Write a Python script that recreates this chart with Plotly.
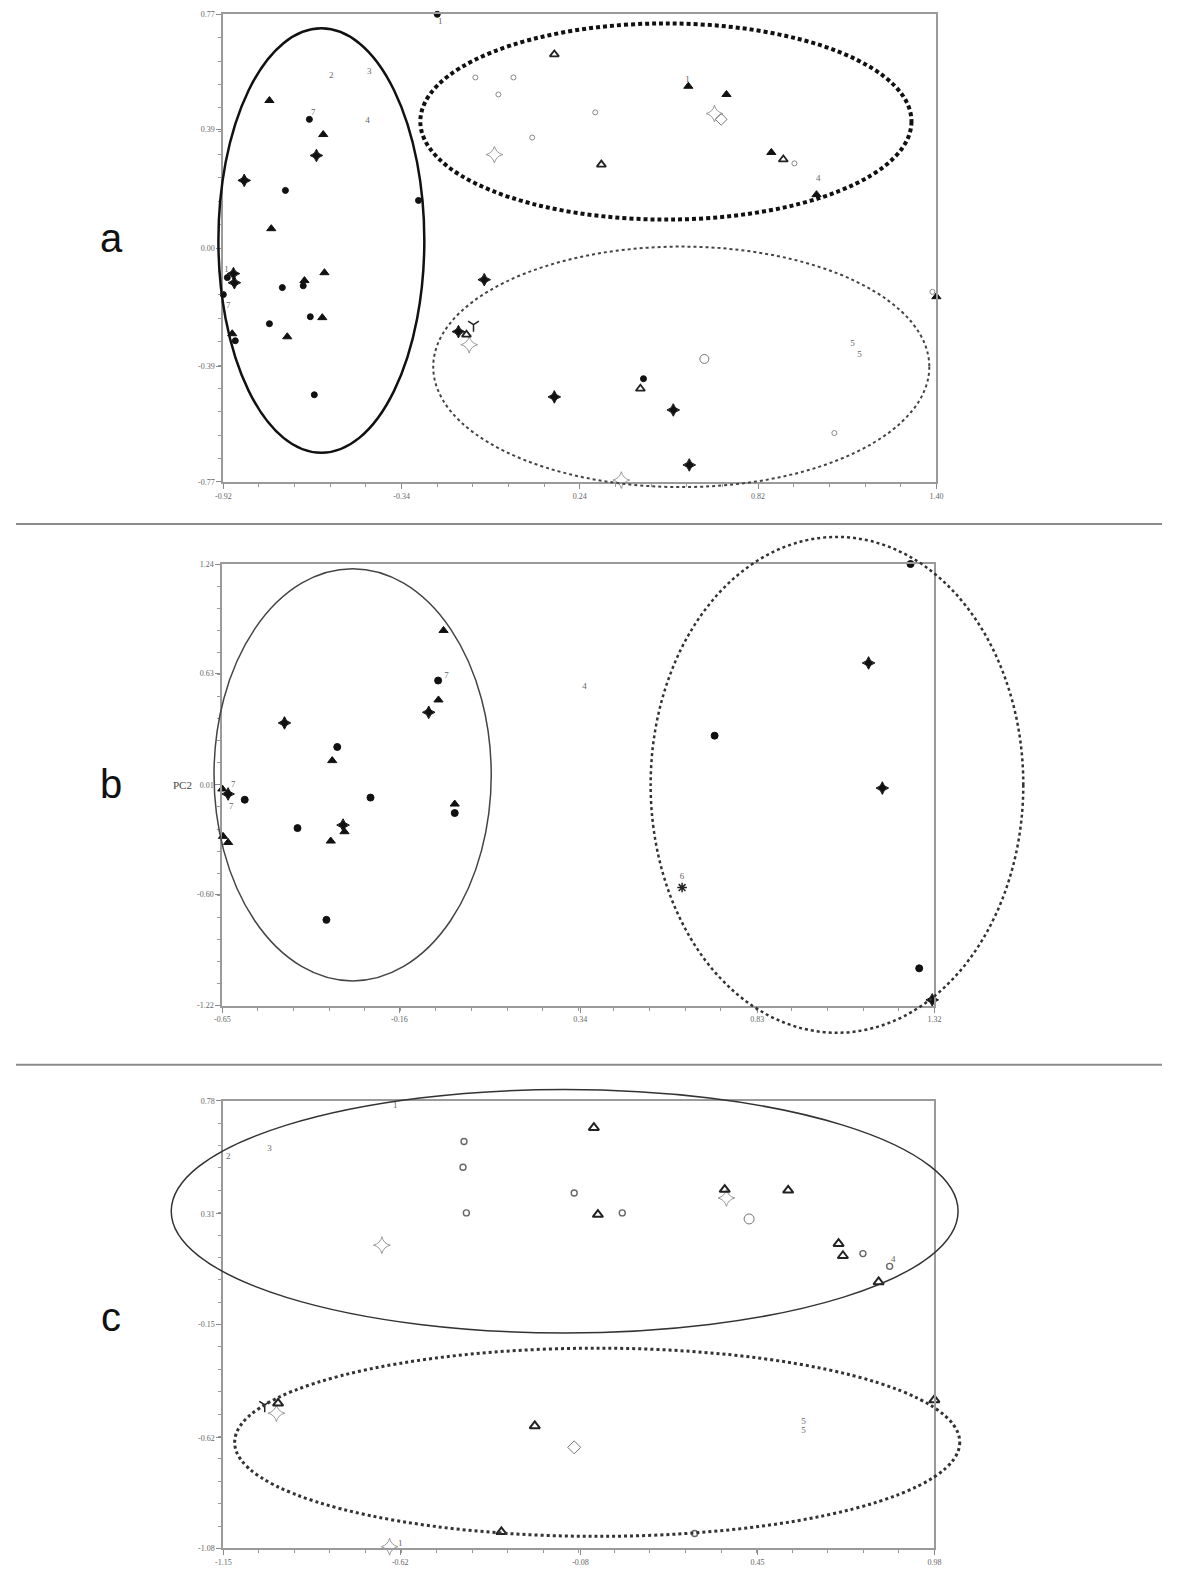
import plotly.graph_objects as go

# ---------------- data: panel a ----------------
a_xticks = [-0.92, -0.34, 0.24, 0.82, 1.40]
a_yticks = [-0.77, -0.39, 0.00, 0.39, 0.77]

a_dot_x = [-0.224, -0.640, -0.718, -0.285, -0.907, -0.920, -0.728, -0.660, -0.770, -0.637, -0.881, -0.624, 0.447]
a_dot_y = [0.770, 0.424, 0.190, 0.157, -0.097, -0.153, -0.130, -0.124, -0.249, -0.226, -0.305, -0.483, -0.430]
a_tri_x = [-0.770, -0.595, -0.764, -0.591, -0.656, -0.712, -0.598, -0.891, 0.593, 0.717, 0.863, 1.010, 1.400]
a_tri_y = [0.486, 0.374, 0.064, -0.081, -0.107, -0.292, -0.229, -0.282, 0.533, 0.506, 0.315, 0.176, -0.160]
a_star_x = [-0.617, -0.852, -0.887, -0.884, -0.071, -0.155, 0.157, 0.544, 0.596]
a_star_y = [0.305, 0.223, -0.084, -0.114, -0.104, -0.275, -0.490, -0.533, -0.714]
a_otri_x = [0.157, 0.310, -0.129, 0.437, 0.902]
a_otri_y = [0.638, 0.275, -0.285, -0.463, 0.292]
a_ocirc_x = [-0.100, 0.024, -0.025, 0.085, 0.290, 0.938, 1.068, 1.387]
a_ocirc_y = [0.562, 0.562, 0.506, 0.364, 0.447, 0.279, -0.609, -0.144]
a_bigcirc_x = [0.645]
a_bigcirc_y = [-0.365]
a_ostar_x = [-0.038, 0.678, -0.120, 0.375]
a_ostar_y = [0.308, 0.443, -0.318, -0.764]
a_diam_x = [0.700]
a_diam_y = [0.424]
a_yy_x = [-0.106]
a_yy_y = [-0.252]
a_lbl_x = [-0.214, -0.569, -0.445, -0.451, -0.904, -0.627, -0.910, 1.127, 1.150, 1.016, 0.590]
a_lbl_y = [0.744, 0.566, 0.582, 0.420, -0.190, 0.447, -0.071, -0.315, -0.351, 0.229, 0.556]
a_lbl_t = ["1", "2", "3", "4", "7", "7", "1", "5", "5", "4", "1"]
# ellipses: x0, x1, y0, y1
a_ell_solid = [-0.936, -0.266, -0.674, 0.724]
a_ell_heavy = [-0.279, 1.319, 0.094, 0.740]
a_ell_dash = [-0.237, 1.377, -0.787, 0.005]

# ---------------- data: panel b ----------------
b_xticks = [-0.65, -0.16, 0.34, 0.83, 1.32]
b_yticks = [-1.22, -0.60, 0.01, 0.63, 1.24]

b_tri_x = [-0.038, -0.052, -0.346, -0.650, -0.007, -0.312, -0.350, -0.648, -0.634]
b_tri_y = [0.870, 0.483, 0.145, -0.013, -0.097, -0.251, -0.303, -0.277, -0.311]
b_dot_x = [-0.053, -0.332, -0.588, -0.240, -0.007, -0.442, -0.362, 1.254, 0.712, 1.278]
b_dot_y = [0.591, 0.221, -0.073, -0.061, -0.147, -0.231, -0.742, 1.240, 0.284, -1.012]
b_star_x = [-0.079, -0.478, -0.634, -0.316, 1.138, 1.176, 1.314]
b_star_y = [0.414, 0.355, -0.041, -0.214, 0.689, -0.008, -1.188]
b_ast_x = [0.622]
b_ast_y = [-0.562]
b_lbl_x = [0.352, -0.030, 0.622, -0.620, -0.625]
b_lbl_y = [0.554, 0.615, -0.500, 0.010, -0.110]
b_lbl_t = ["4", "7", "6", "7", "7"]
b_ell_solid = [-0.673, 0.094, -1.082, 1.214]
b_ell_dot = [0.535, 1.566, -1.371, 1.391]

# ---------------- data: panel c ----------------
c_xticks = [-1.15, -0.62, -0.08, 0.45, 0.98]
c_yticks = [-1.08, -0.62, -0.15, 0.31, 0.78]

c_otri_x = [-0.040, -0.028, 0.352, 0.542, 0.693, 0.706, 0.813, 0.980, -0.217, -0.986, -0.317]
c_otri_y = [0.668, 0.307, 0.411, 0.408, 0.186, 0.136, 0.027, -0.463, -0.571, -0.477, -1.011]
c_ocirc_x = [-0.429, -0.432, -0.422, -0.099, 0.045, 0.766, 0.846, 0.262]
c_ocirc_y = [0.611, 0.504, 0.314, 0.397, 0.314, 0.145, 0.092, -1.018]
c_bigcirc_x = [0.425]
c_bigcirc_y = [0.289]
c_ostar_x = [-0.675, 0.357, -0.991, -0.652]
c_ostar_y = [0.180, 0.376, -0.518, -1.073]
c_diam_x = [-0.099]
c_diam_y = [-0.660]
c_yy_x = [-1.026]
c_yy_y = [-0.484]
c_lbl_x = [-0.635, -1.135, -1.012, 0.857, 0.588, 0.588, -0.620]
c_lbl_y = [0.759, 0.547, 0.580, 0.118, -0.552, -0.593, -1.060]
c_lbl_t = ["1", "2", "3", "4", "5", "5", "1"]
c_ell_solid = [-1.306, 1.051, -0.185, 0.827]
c_ell_dot = [-1.116, 1.056, -1.030, -0.248]

# ---------------- page geometry ----------------
# page body keeps its default 8px margin; the photographed page comes out
# slightly rescaled, so target positions are calibrated back to page pixels
W, H, OFF = 1161, 1570, 8
CAL_X = (6.8, 0.987)
CAL_Y = (2.77, 0.9929)


def xp(s):
    return ((s - CAL_X[0]) / CAL_X[1] - OFF) / W


def yp(s):
    return 1 - ((s - CAL_Y[0]) / CAL_Y[1] - OFF) / H


def clamp(v):
    return min(1.0, max(0.0, v))


# plot frames in screen pixels: left, right, top, bottom
frames = [(222, 935, 13, 480), (221, 933, 562, 1003), (222, 933, 1098, 1545)]
bands = [(0, 510), (515, 1055), (1062, 1570)]
ticks = [(a_xticks, a_yticks), (b_xticks, b_yticks), (c_xticks, c_yticks)]

fig = go.Figure()


def add(i, xs, ys, symbol, size, color, lw=1, mode="markers", text=None):
    suf = "" if i == 0 else str(i + 1)
    if mode == "text":
        fig.add_trace(go.Scatter(x=xs, y=ys, mode="text", text=text,
                                 textfont=dict(family="Liberation Serif", size=9, color="#666"),
                                 xaxis="x" + suf, yaxis="y" + suf, showlegend=False,
                                 cliponaxis=False, hoverinfo="skip"))
        return
    fig.add_trace(go.Scatter(x=xs, y=ys, mode="markers",
                             marker=dict(symbol=symbol, size=size, color=color,
                                         line=dict(width=lw, color=color)),
                             xaxis="x" + suf, yaxis="y" + suf, showlegend=False,
                             cliponaxis=False))


# panel a
add(0, a_ocirc_x, a_ocirc_y, "circle-open", 5, "#888")
add(0, a_bigcirc_x, a_bigcirc_y, "circle-open", 9, "#777")
add(0, a_ostar_x, a_ostar_y, "star-diamond-open", 12, "#999")
add(0, a_diam_x, a_diam_y, "diamond-open", 9, "#777")
add(0, a_otri_x, a_otri_y, "triangle-up-open", 8, "#222", 1.8)
add(0, a_yy_x, a_yy_y, "y-down-open", 9, "#222", 1.5)
add(0, a_dot_x, a_dot_y, "circle", 6, "#111")
add(0, a_tri_x, a_tri_y, "triangle-up", 8, "#111")
add(0, a_star_x, a_star_y, "star-diamond", 9, "#111")
add(0, a_lbl_x, a_lbl_y, None, 0, None, mode="text", text=a_lbl_t)

# panel b
add(1, b_dot_x, b_dot_y, "circle", 7, "#111")
add(1, b_tri_x, b_tri_y, "triangle-up", 8, "#111")
add(1, b_star_x, b_star_y, "star-diamond", 9, "#111")
add(1, b_ast_x, b_ast_y, "asterisk-open", 8, "#222", 1.5)
add(1, b_lbl_x, b_lbl_y, None, 0, None, mode="text", text=b_lbl_t)

# panel c
add(2, c_ocirc_x, c_ocirc_y, "circle-open", 6, "#666", 1.4)
add(2, c_bigcirc_x, c_bigcirc_y, "circle-open", 10, "#777")
add(2, c_ostar_x, c_ostar_y, "star-diamond-open", 12, "#999")
add(2, c_diam_x, c_diam_y, "diamond-open", 10, "#777")
add(2, c_otri_x, c_otri_y, "triangle-up-open", 9, "#222", 2)
add(2, c_yy_x, c_yy_y, "y-down-open", 9, "#222", 1.5)
add(2, c_lbl_x, c_lbl_y, None, 0, None, mode="text", text=c_lbl_t)

# transparent plot background: the wide helper subplots overlap the real ones
layout = dict(width=W, height=H, margin=dict(l=0, r=0, t=0, b=0),
              paper_bgcolor="white", plot_bgcolor="rgba(0,0,0,0)", showlegend=False)

tickfont = dict(family="Liberation Serif", size=8, color="#666")
for i, ((l, r, t, b), (xt, yt)) in enumerate(zip(frames, ticks)):
    suf = "" if i == 0 else str(i + 1)
    xdom = [clamp(xp(l)), clamp(xp(r))]
    ydom = [clamp(yp(b)), clamp(yp(t))]
    common = dict(showline=True, linecolor="#9a9a9a", linewidth=2, mirror=True,
                  showgrid=False, zeroline=False, ticks="outside", ticklen=5,
                  tickwidth=1, tickcolor="#888", tickfont=tickfont, tickmode="array")
    layout["xaxis" + suf] = dict(common, domain=xdom, range=[xt[0], xt[-1]],
                                 anchor="y" + suf, tickvals=xt,
                                 ticktext=[f"{v:.2f}" for v in xt],
                                 minor=dict(ticks="outside", ticklen=3, tickcolor="#999",
                                            tickmode="linear", tick0=xt[0],
                                            dtick=(xt[-1] - xt[0]) / 20, showgrid=False))
    layout["yaxis" + suf] = dict(common, domain=ydom, range=[yt[0], yt[-1]],
                                 anchor="x" + suf, tickvals=yt,
                                 ticktext=[f"{v:.2f}" for v in yt],
                                 minor=dict(ticks="outside", ticklen=3, tickcolor="#999",
                                            tickmode="linear", tick0=yt[0],
                                            dtick=(yt[-1] - yt[0]) / 20, showgrid=False))
    # auxiliary (invisible) axes with identical scale but wider domain, so the
    # group ellipses may run past the frame like in the original
    n = str(i + 4)
    kx = (xt[-1] - xt[0]) / (xdom[1] - xdom[0])
    ky = (yt[-1] - yt[0]) / (ydom[1] - ydom[0])
    bdom = [clamp(yp(bands[i][1])), clamp(yp(bands[i][0]))]
    layout["xaxis" + n] = dict(domain=[0, 1], visible=False, anchor="y" + n,
                               range=[xt[0] - xdom[0] * kx, xt[-1] + (1 - xdom[1]) * kx])
    layout["yaxis" + n] = dict(domain=bdom, visible=False, anchor="x" + n,
                               range=[yt[0] - (ydom[0] - bdom[0]) * ky,
                                      yt[-1] + (bdom[1] - ydom[1]) * ky])
    fig.add_trace(go.Scatter(x=[None], y=[None], xaxis="x" + n, yaxis="y" + n,
                             showlegend=False, hoverinfo="skip"))

fig.update_layout(**layout)


def ellipse(i, e, color, width, dash):
    n = str(i + 4)
    fig.add_shape(type="circle", xref="x" + n, yref="y" + n,
                  x0=e[0], x1=e[1], y0=e[2], y1=e[3],
                  line=dict(color=color, width=width, dash=dash))


ellipse(0, a_ell_solid, "#111", 2.5, "solid")
ellipse(0, a_ell_heavy, "#111", 4, "4px,3px")
ellipse(0, a_ell_dash, "#444", 2, "3px,3px")
ellipse(1, b_ell_solid, "#444", 1.5, "solid")
ellipse(1, b_ell_dot, "#333", 2.5, "3px,3px")
ellipse(2, c_ell_solid, "#333", 1.5, "solid")
ellipse(2, c_ell_dot, "#333", 3, "3px,3px")

# grey separators between the panels
for sep in (522, 1062):
    fig.add_shape(type="line", xref="paper", yref="paper", x0=0, x1=1,
                  y0=yp(sep), y1=yp(sep), line=dict(color="#8a8a8a", width=2))

# panel letters
for letter, ypix in (("a", 236), ("b", 782), ("c", 1314)):
    fig.add_annotation(text=letter, xref="paper", yref="paper", x=xp(110), y=yp(ypix),
                       showarrow=False, xanchor="center", yanchor="middle",
                       font=dict(family="Liberation Sans", size=40, color="#111"))

fig.add_annotation(text="PC2", xref="paper", yref="y2", x=xp(181), y=0.01,
                   showarrow=False, xanchor="center", yanchor="middle",
                   font=dict(family="Liberation Serif", size=11, color="#444"))

fig.write_html("out.html")
